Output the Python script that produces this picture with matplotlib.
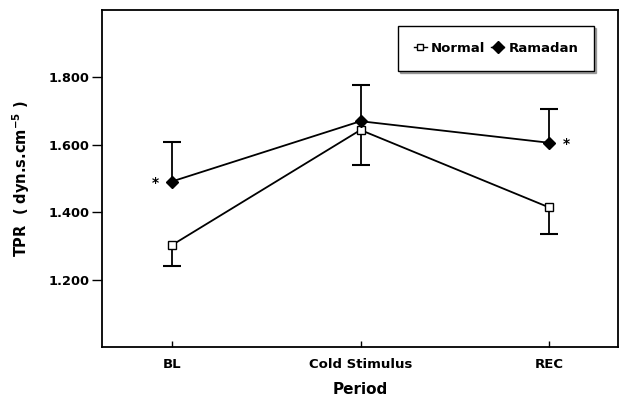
import matplotlib
matplotlib.use("Agg")
import matplotlib.pyplot as plt
from matplotlib.lines import Line2D

categories = ["BL", "Cold Stimulus", "REC"]
normal = [1.302, 1.644, 1.414]
normal_err = [0.062, 0.103, 0.079]
ramadan = [1.491, 1.670, 1.606]
ramadan_err = [0.117, 0.108, 0.099]
yticks = [1.2, 1.4, 1.6, 1.8]
ytick_labels = ["1.200", "1.400", "1.600", "1.800"]

plt.rcParams['font.family'] = ['DejaVu Sans']
plt.rcParams['font.weight'] = 'bold'
plt.rcParams['mathtext.default'] = 'bf'

fig = plt.figure(figsize=(6.21, 4.01), dpi=100)
W, H = 621, 401
ax = fig.add_axes([101.7 / W, 1 - 347 / H, (618 - 101.7) / W, (347 - 10) / H])

x = list(range(len(categories)))

# one-sided error bars: Normal downward, Ramadan upward
n_low = [v - e for v, e in zip(normal, normal_err)]
r_high = [v + e for v, e in zip(ramadan, ramadan_err)]
ax.vlines(x, n_low, normal, color='black', lw=1.3, zorder=2)
ax.vlines(x, ramadan, r_high, color='black', lw=1.3, zorder=2)
ax.plot(x, n_low, ls='none', marker='_', ms=13, mew=1.5, color='black', zorder=2)
ax.plot(x, r_high, ls='none', marker='_', ms=13, mew=1.5, color='black', zorder=2)

ax.plot(x, normal, color='black', lw=1.3, marker='s', ms=5.5, mfc='white',
        mec='black', mew=1.0, zorder=3)
ax.plot(x, ramadan, color='black', lw=1.3, marker='D', ms=6, mfc='black',
        mec='black', zorder=3)

# significance asterisks
ax.text(x[0] - 0.085, ramadan[0] - 0.004, "*", ha='center', va='center', fontsize=10)
ax.text(x[2] + 0.09, ramadan[2] - 0.004, "*", ha='center', va='center', fontsize=10)

ax.set_xlim(-0.371, 2.364)
ax.set_ylim(1.0, 2.0)
ax.set_xticks(x)
ax.set_xticklabels(categories, fontsize=9.5, fontweight='bold')
ax.set_yticks(yticks)
ax.set_yticklabels(ytick_labels, fontsize=9.3, fontweight='bold')
ax.tick_params(axis='y', direction='out', length=7.5, width=1.0, pad=1.5)
ax.tick_params(axis='x', direction='in', length=4, width=1.0, pad=8)
for s in ax.spines.values():
    s.set_linewidth(1.3)

ax.set_xlabel("Period", fontsize=11, fontweight='bold', labelpad=8)
ax.set_ylabel("TPR  ( dyn.s.cm$^{-5}$ )", fontsize=10.5, fontweight='bold', labelpad=12)

handles = [
    Line2D([], [], color='black', lw=1.0, marker='s', ms=5, mfc='white', mec='black'),
    Line2D([], [], color='black', lw=1.0, marker='D', ms=6, mfc='black', mec='black'),
]
leg = ax.legend(handles, ["Normal", "Ramadan"], loc='upper right',
                bbox_to_anchor=(0.9535, 0.9525), borderaxespad=0, ncol=2,
                frameon=True, fancybox=False,
                shadow={'ox': 1.5, 'oy': -1.5, 'color': '0.35'}, edgecolor='black',
                handlelength=1.0, handletextpad=0.3, columnspacing=0.45, borderpad=1.2,
                prop={'weight': 'bold', 'size': 9.5})
leg.get_frame().set_linewidth(1.0)

fig.savefig("out.png", dpi=100)
